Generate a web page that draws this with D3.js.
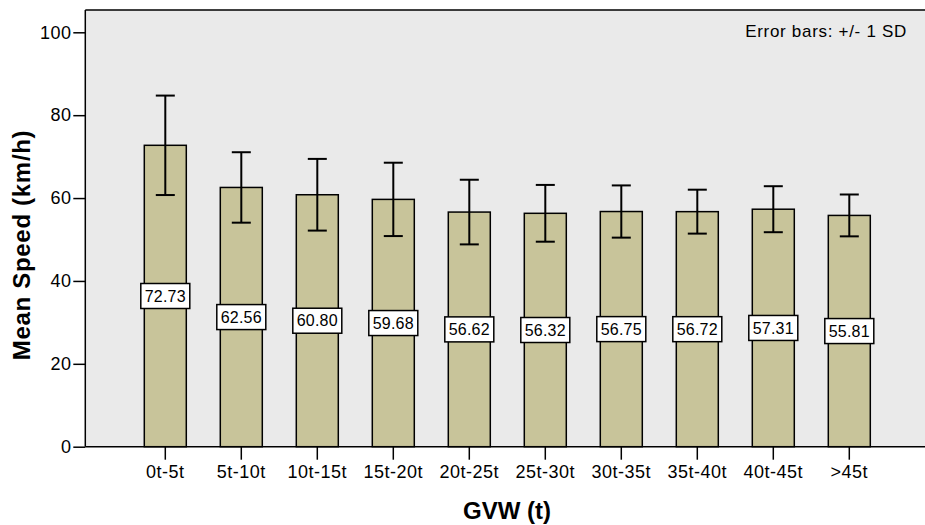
<!DOCTYPE html>
<html>
<head>
<meta charset="utf-8">
<script src="https://cdn.jsdelivr.net/npm/d3@7"></script>
<style>
  html, body { margin: 0; padding: 0; background: #ffffff; }
  svg { display: block; font-family: "Liberation Sans", Arial, sans-serif; }
</style>
</head>
<body>
<svg id="chart" width="925" height="525"></svg>
<script>
// Mean speed by gross vehicle weight class, with +/- 1 SD error bars
const categories = ["0t-5t", "5t-10t", "10t-15t", "15t-20t", "20t-25t",
                    "25t-30t", "30t-35t", "35t-40t", "40t-45t", ">45t"];
const meanSpeed = [72.73, 62.56, 60.80, 59.68, 56.62, 56.32, 56.75, 56.72, 57.31, 55.81];
const stdDev    = [12.0, 8.5, 8.65, 8.85, 7.8, 6.85, 6.3, 5.3, 5.55, 5.05];
const yTicks    = [0, 20, 40, 60, 80, 100];

const svg = d3.select("#chart");

const left = 85.3, right = 929.3;
const x = d3.scaleBand()
  .domain(categories)
  .range([left, right])
  .paddingInner(34 / 76)
  .paddingOuter(59 / 76);

const y = d3.scaleLinear().domain([0, 100]).range([446.7, 32.3]);
const frameTop = y(105.4);

// Plot background and frame
svg.append("rect")
  .attr("x", left).attr("y", frameTop)
  .attr("width", right - left).attr("height", y(0) - frameTop)
  .attr("fill", "#eaeaea");
svg.append("line")
  .attr("x1", left).attr("x2", right)
  .attr("y1", frameTop).attr("y2", frameTop)
  .attr("stroke", "#000").attr("stroke-width", 1.5);

const rows = categories.map((c, i) => ({ c, m: meanSpeed[i], sd: stdDev[i] }));

// Bars
svg.append("g").selectAll("rect").data(rows).join("rect")
  .attr("x", d => x(d.c))
  .attr("y", d => y(d.m))
  .attr("width", x.bandwidth())
  .attr("height", d => y(0) - y(d.m))
  .attr("fill", "#c8c49a")
  .attr("stroke", "#000")
  .attr("stroke-width", 1.5);

// Error bars
const capHalf = 9.5;
const eb = svg.append("g").attr("stroke", "#000").attr("stroke-width", 2);
rows.forEach(d => {
  const cx = x(d.c) + x.bandwidth() / 2;
  eb.append("line").attr("x1", cx).attr("x2", cx)
    .attr("y1", y(d.m + d.sd)).attr("y2", y(d.m - d.sd));
  eb.append("line").attr("x1", cx - capHalf).attr("x2", cx + capHalf)
    .attr("y1", y(d.m + d.sd)).attr("y2", y(d.m + d.sd));
  eb.append("line").attr("x1", cx - capHalf).attr("x2", cx + capHalf)
    .attr("y1", y(d.m - d.sd)).attr("y2", y(d.m - d.sd));
});

// Value labels at half bar height
const lab = svg.append("g");
rows.forEach(d => {
  const cx = x(d.c) + x.bandwidth() / 2;
  const cy = y(d.m / 2);
  lab.append("rect")
    .attr("x", cx - 24.5).attr("y", cy - 12.5)
    .attr("width", 49).attr("height", 25)
    .attr("fill", "#fff").attr("stroke", "#000").attr("stroke-width", 1.5);
  lab.append("text")
    .attr("x", cx).attr("y", cy)
    .attr("dy", "0.36em")
    .attr("text-anchor", "middle")
    .attr("font-size", 16)
    .attr("letter-spacing", 0.2)
    .attr("fill", "#000")
    .text(d.m.toFixed(2));
});

// Y axis
const yAxis = d3.axisLeft(y).tickValues(yTicks).tickSize(12).tickPadding(2)
  .tickFormat(d3.format("d"));
const gy = svg.append("g").attr("transform", `translate(${left},0)`).call(yAxis);
gy.select(".domain").attr("d", `M-0,${frameTop}V${y(0)}`).attr("stroke-width", 1.5);
gy.selectAll(".tick line").attr("stroke-width", 1.5);
gy.selectAll(".tick text").attr("font-size", 18).attr("letter-spacing", 0.4)
  .attr("font-family", "Liberation Sans, Arial, sans-serif").attr("fill", "#000");

// X axis
const xAxis = d3.axisBottom(x).tickSize(13).tickPadding(6);
const gx = svg.append("g").attr("transform", `translate(0,${y(0)})`).call(xAxis);
gx.select(".domain").attr("d", `M${left},0H${right}`).attr("stroke-width", 1.5);
gx.selectAll(".tick line").attr("stroke-width", 1.5);
gx.selectAll(".tick text").attr("font-size", 18).attr("letter-spacing", 0.5)
  .attr("font-family", "Liberation Sans, Arial, sans-serif").attr("fill", "#000");

// Axis titles
svg.append("text")
  .attr("transform", "translate(30,245) rotate(-90)")
  .attr("text-anchor", "middle")
  .attr("font-size", 24).attr("font-weight", "bold")
  .attr("letter-spacing", 0.7)
  .text("Mean Speed (km/h)");
svg.append("text")
  .attr("x", 507).attr("y", 519)
  .attr("text-anchor", "middle")
  .attr("font-size", 24).attr("font-weight", "bold")
  .text("GVW (t)");

// Error bar note
svg.append("text")
  .attr("x", 907).attr("y", 37)
  .attr("text-anchor", "end")
  .attr("font-size", 17)
  .attr("letter-spacing", 0.7)
  .text("Error bars: +/- 1 SD");
</script>
</body>
</html>
